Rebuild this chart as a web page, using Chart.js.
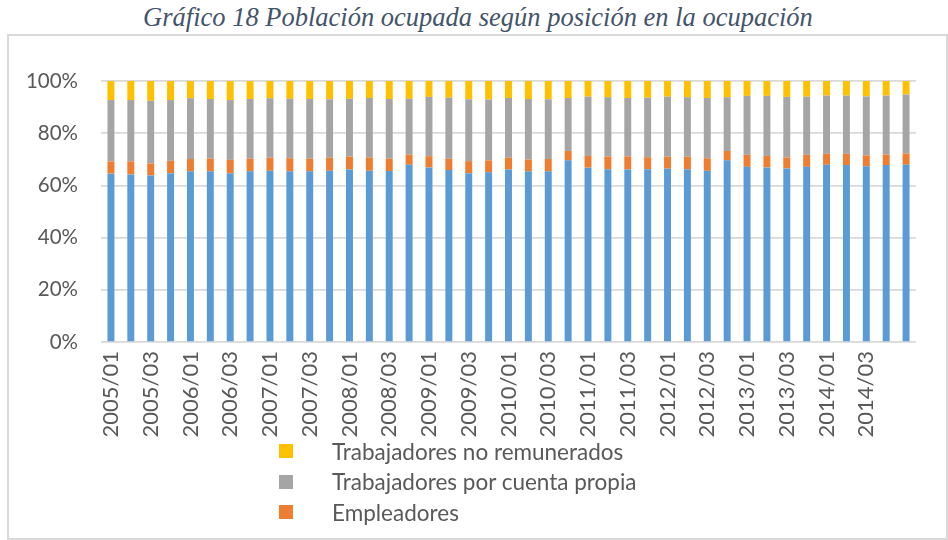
<!DOCTYPE html>
<html>
<head>
<meta charset="utf-8">
<script src="https://cdn.jsdelivr.net/npm/chart.js@4.4.0/dist/chart.umd.min.js"></script>
<style>
  body { margin: 0; background: #fff; width: 948px; height: 540px; overflow: hidden; position: relative; }
  #titulo { position: absolute; left: 8px; top: 2px; width: 940px; text-align: center;
            font-family: "Liberation Serif", "Times New Roman", serif; font-style: italic; font-size: 26.5px; color: #44546A; }
  #marco { position: absolute; left: 7px; top: 34px; width: 937px; height: 502px; border: 2px solid #d9d9d9; }
  #caja { position: absolute; left: 0; top: 0; width: 937px; height: 406px; }
  #leyenda { position: absolute; left: 270px; top: 400px; font-family: Lato, sans-serif; font-size: 22.5px; color: #595959; }
  #leyenda div { display: flex; align-items: center; height: 30.6px; }
  #leyenda span.cuadro { width: 14px; height: 14px; margin-right: 39px; }
</style>
</head>
<body>
<div id="titulo">Gráfico 18 Población ocupada según posición en la ocupación</div>
<div id="marco">
  <div id="caja"><canvas id="myChart"></canvas></div>
  <div id="leyenda"></div>
</div>
<script>
// trimestres 2005/01 - 2015/01
var periodos = [
  "2005/01","2005/02","2005/03","2005/04","2006/01","2006/02","2006/03","2006/04",
  "2007/01","2007/02","2007/03","2007/04","2008/01","2008/02","2008/03","2008/04",
  "2009/01","2009/02","2009/03","2009/04","2010/01","2010/02","2010/03","2010/04",
  "2011/01","2011/02","2011/03","2011/04","2012/01","2012/02","2012/03","2012/04",
  "2013/01","2013/02","2013/03","2013/04","2014/01","2014/02","2014/03","2014/04",
  "2015/01"
];

// porcentajes de la poblacion ocupada
var empleados = [64.5,64.2,63.8,64.7,65.4,65.4,64.7,65.4,65.6,65.4,65.4,65.6,66.1,65.6,
  65.5,67.9,66.9,65.9,64.7,65.0,66.1,65.4,65.4,69.6,66.8,66.2,66.1,66.2,66.4,66.2,
  65.6,69.6,67.1,66.9,66.5,67.1,67.9,67.8,67.3,67.8,67.9];
var empleadores = [4.7,5.0,4.6,4.7,4.7,4.9,5.1,4.8,5.0,5.0,4.8,5.0,4.9,5.1,
  4.7,3.9,4.3,4.3,4.6,4.6,4.5,4.5,4.7,3.6,4.5,4.9,5.0,4.6,4.6,4.8,
  4.8,3.6,4.6,4.4,4.2,4.6,4.2,4.3,4.2,4.0,4.3];
var cuentaPropia = [23.5,23.5,24.0,23.3,23.3,22.8,22.9,22.9,22.8,22.8,22.9,22.4,22.2,22.8,
  22.9,21.4,22.7,23.4,23.7,23.3,22.9,23.2,22.9,20.3,22.7,22.7,22.4,22.8,23.0,22.8,
  23.1,20.6,22.6,23.0,23.2,22.3,22.3,22.3,22.6,22.6,22.6];
var noRemunerados = [7.3,7.3,7.6,7.3,6.6,6.9,7.3,6.9,6.6,6.8,6.9,7.0,6.8,6.5,
  6.9,6.8,6.1,6.4,7.0,7.1,6.5,6.9,7.0,6.5,6.0,6.2,6.5,6.5,6.0,6.2,
  6.5,6.2,5.7,5.7,6.1,6.0,5.6,5.6,5.9,5.6,5.2];

var ticksY = [0, 20, 40, 60, 80, 100];

var gris = '#595959';

var htmlLegend = {
  id: 'htmlLegend',
  afterUpdate: function(chart) {
    var cont = document.getElementById('leyenda');
    cont.innerHTML = '';
    var items = Chart.defaults.plugins.legend.labels.generateLabels(chart);
    items.reverse().forEach(function(item) {
      if (item.datasetIndex === 0) return; // la cuarta entrada queda fuera del recuadro
      var fila = document.createElement('div');
      var cuadro = document.createElement('span');
      cuadro.className = 'cuadro';
      cuadro.style.background = item.fillStyle;
      var txt = document.createElement('span');
      txt.textContent = item.text;
      fila.appendChild(cuadro);
      fila.appendChild(txt);
      cont.appendChild(fila);
    });
  }
};

function createChart() {
  var ctx = document.getElementById('myChart');
  var myChart = new Chart(ctx, {
    type: 'bar',
    data: {
      labels: periodos,
      datasets: [
        { label: 'Empleados', data: empleados, backgroundColor: '#5B9BD5' },
        { label: 'Empleadores', data: empleadores, backgroundColor: '#ED7D31' },
        { label: 'Trabajadores por cuenta propia', data: cuentaPropia, backgroundColor: '#A5A5A5' },
        { label: 'Trabajadores no remunerados', data: noRemunerados, backgroundColor: '#FFC000' }
      ]
    },
    options: {
      responsive: true,
      maintainAspectRatio: false,
      animation: false,
      barPercentage: 0.7,
      categoryPercentage: 0.5,
      layout: { padding: { left: 0, right: 30, top: 45, bottom: 0 } },
      plugins: {
        legend: { display: false },
        tooltip: { enabled: false }
      },
      scales: {
        x: {
          stacked: true,
          grid: { display: false, drawTicks: false },
          border: { display: false },
          afterFit: function(scale) { scale.height = 100; },
          ticks: {
            color: gris,
            font: { family: 'Lato', size: 22 },
            padding: 9,
            autoSkip: false,
            minRotation: 90,
            maxRotation: 90,
            callback: function(val, i) {
              return (i % 2 === 0 && i < 40) ? this.getLabelForValue(val) : '';
            }
          }
        },
        y: {
          stacked: true,
          min: 0,
          max: 100,
          afterFit: function(scale) { scale.width = 92; },
          afterBuildTicks: function(scale) {
            scale.ticks = ticksY.map(function(v) { return { value: v }; });
          },
          grid: { color: '#d9d9d9', lineWidth: 1.7, drawTicks: false },
          border: { display: false },
          ticks: {
            color: gris,
            font: { family: 'Lato', size: 20.5 },
            padding: 23,
            callback: function(v) { return v + '%'; }
          }
        }
      }
    },
    plugins: [htmlLegend]
  });
}

createChart();
</script>
</body>
</html>
